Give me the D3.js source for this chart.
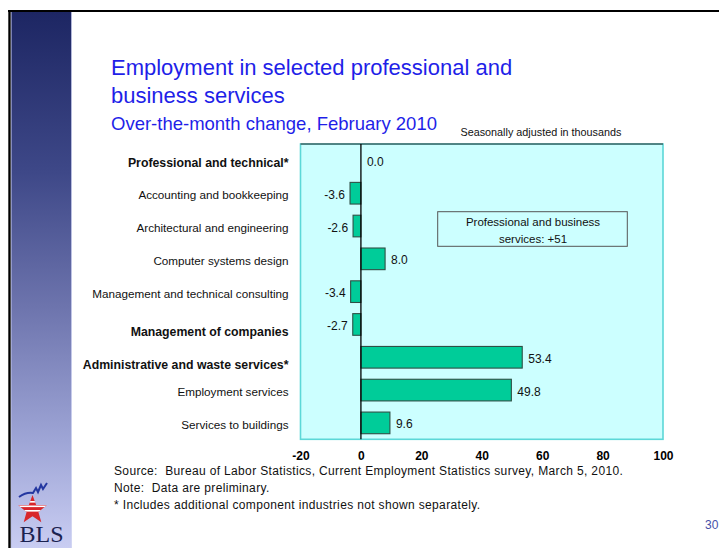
<!DOCTYPE html>
<html>
<head>
<meta charset="utf-8">
<script src="https://cdn.jsdelivr.net/npm/d3@7"></script>
<style>
  html, body { margin: 0; padding: 0; background: #fff; }
  svg { display: block; font-family: "Liberation Sans", Arial, sans-serif; }
</style>
</head>
<body>
<svg id="chart" width="719" height="548"></svg>
<script>
// ---- data ----
const categories = [
  "Professional and technical*",
  "Accounting and bookkeeping",
  "Architectural and engineering",
  "Computer systems design",
  "Management and technical consulting",
  "Management of companies",
  "Administrative and waste services*",
  "Employment services",
  "Services to buildings"
];
const values = [0.0, -3.6, -2.6, 8.0, -3.4, -2.7, 53.4, 49.8, 9.6];
const boldCategories = ["Professional and technical*", "Management of companies", "Administrative and waste services*"];
const xTicks = [-20, 0, 20, 40, 60, 80, 100];
const titleLines = ["Employment in selected professional and", "business services"];
const subtitle = "Over-the-month change, February 2010";
const unitNote = "Seasonally adjusted in thousands";
const boxNote = ["Professional and business", "services: +51"];
const footer = [
  "Source:  Bureau of Labor Statistics, Current Employment Statistics survey, March 5, 2010.",
  "Note:  Data are preliminary.",
  "* Includes additional component industries not shown separately."
];
const pageNumber = "30";

// ---- layout ----
const svg = d3.select("#chart");
const W = 719, H = 548;
const plot = { left: 300.5, right: 663, top: 144, bottom: 439.3 };

// gradient sidebar
const defs = svg.append("defs");
const grad = defs.append("linearGradient").attr("id", "side").attr("x1", 0).attr("y1", 0).attr("x2", 0).attr("y2", 1);
grad.append("stop").attr("offset", "0%").attr("stop-color", "#1d2663");
grad.append("stop").attr("offset", "30%").attr("stop-color", "#3e4888");
grad.append("stop").attr("offset", "55%").attr("stop-color", "#6d74ad");
grad.append("stop").attr("offset", "80%").attr("stop-color", "#9ea5d6");
grad.append("stop").attr("offset", "100%").attr("stop-color", "#c9cdf2");

svg.append("rect").attr("x", 11).attr("y", 12).attr("width", 60.5).attr("height", H - 12).attr("fill", "url(#side)");
svg.append("line").attr("x1", 11.5).attr("x2", 11.5).attr("y1", 12).attr("y2", H).attr("stroke", "#b8bde6").attr("stroke-width", 1).attr("opacity", 0.6);
svg.append("line").attr("x1", 71.5).attr("x2", 71.5).attr("y1", 12).attr("y2", H).attr("stroke", "#c8cdf0").attr("stroke-width", 1).attr("opacity", 0.6);

// page frame
svg.append("line").attr("x1", 8).attr("x2", W).attr("y1", 11).attr("y2", 11).attr("stroke", "#000").attr("stroke-width", 2.2);
svg.append("line").attr("x1", 9.5).attr("x2", 9.5).attr("y1", 10).attr("y2", H).attr("stroke", "#000").attr("stroke-width", 2.4);

// BLS logo
const logo = svg.append("g");
const starCx = 32.5, starCy = 510, R = 15, r = 6.2;
const starPts = d3.range(10).map(i => {
  const a = -Math.PI / 2 + i * Math.PI / 5;
  const rr = i % 2 === 0 ? R : r;
  return [starCx + rr * Math.cos(a), starCy + rr * Math.sin(a)];
});
defs.append("clipPath").attr("id", "starClip").append("polygon").attr("points", starPts.map(p => p.join(",")).join(" "));
logo.append("polygon").attr("points", starPts.map(p => p.join(",")).join(" ")).attr("fill", "#d8262b");
[501, 505.5, 510].forEach(yy => {
  logo.append("rect").attr("x", 14).attr("y", yy).attr("width", 40).attr("height", 1.6).attr("fill", "#fff").attr("clip-path", "url(#starClip)");
});
logo.append("path")
  .attr("d", "M19,497 Q26,492 33,493 L36,488 L38,492 L41,485 L43,489 L47,483")
  .attr("fill", "none").attr("stroke", "#2437a0").attr("stroke-width", 2);
logo.append("text").attr("x", 41.5).attr("y", 542).attr("text-anchor", "middle")
  .attr("font-family", "'Liberation Serif', 'Times New Roman', serif").attr("font-size", 24)
  .attr("fill", "#1b2250").text("BLS");

// titles
const titleColor = "#1f1fe8";
svg.selectAll("text.title").data(titleLines).join("text")
  .attr("class", "title").attr("x", 111).attr("y", (d, i) => 75 + i * 27.7)
  .attr("font-size", 22).attr("fill", titleColor).text(d => d);
svg.append("text").attr("x", 111).attr("y", 130).attr("font-size", 18.5).attr("fill", titleColor).text(subtitle);
svg.append("text").attr("x", 460.5).attr("y", 136).attr("font-size", 10.8).attr("fill", "#111").text(unitNote);

// scales
const x = d3.scaleLinear().domain([xTicks[0], xTicks[xTicks.length - 1]]).range([plot.left, plot.right]);
const y = d3.scaleBand().domain(categories).range([plot.top, plot.bottom]).paddingInner(0.34).paddingOuter(0.17);

// plot background
svg.append("rect").attr("x", x(xTicks[0])).attr("y", plot.top)
  .attr("width", x(xTicks[xTicks.length - 1]) - x(xTicks[0])).attr("height", plot.bottom - plot.top)
  .attr("fill", "#ccffff").attr("stroke", "#5cd8d8").attr("stroke-width", 1.6);
svg.append("line").attr("x1", x(xTicks[0])).attr("x2", x(xTicks[xTicks.length - 1]))
  .attr("y1", plot.top).attr("y2", plot.top).attr("stroke", "#2a2a2a").attr("stroke-width", 1);

// bars
svg.selectAll("rect.bar").data(categories).join("rect")
  .attr("class", "bar")
  .attr("x", (d, i) => x(Math.min(0, values[i])))
  .attr("y", d => y(d))
  .attr("width", (d, i) => Math.abs(x(values[i]) - x(0)))
  .attr("height", y.bandwidth())
  .attr("fill", "#00cc99").attr("stroke", "#2f4f45").attr("stroke-width", 1.1);

// zero line
svg.append("line").attr("x1", x(0)).attr("x2", x(0)).attr("y1", plot.top).attr("y2", plot.bottom)
  .attr("stroke", "#000").attr("stroke-width", 1.3);

// value labels
svg.selectAll("text.val").data(categories).join("text")
  .attr("class", "val")
  .attr("x", (d, i) => values[i] < 0 ? x(values[i]) - 5 : x(values[i]) + 6)
  .attr("y", d => y(d) + y.bandwidth() / 2 + 1.5)
  .attr("dominant-baseline", "central")
  .attr("text-anchor", (d, i) => values[i] < 0 ? "end" : "start")
  .attr("font-size", 12).attr("fill", "#111")
  .text((d, i) => values[i].toFixed(1));

// category labels
const labelShift = { "Professional and technical*": 3, "Management of companies": 8, "Administrative and waste services*": 8 };
svg.selectAll("text.cat").data(categories).join("text")
  .attr("class", "cat")
  .attr("x", 288.5)
  .attr("y", d => y(d) + y.bandwidth() / 2 + (labelShift[d] !== undefined ? labelShift[d] : 1.5))
  .attr("dominant-baseline", "central")
  .attr("text-anchor", "end")
  .attr("font-size", d => boldCategories.includes(d) ? 12.3 : 11.7)
  .attr("font-weight", d => boldCategories.includes(d) ? "bold" : "normal")
  .attr("fill", "#111")
  .text(d => d);

// annotation box
const ann = svg.append("g");
ann.append("rect").attr("x", 437.7).attr("y", 211.7).attr("width", 189.6).attr("height", 34.6)
  .attr("fill", "#ccffff").attr("stroke", "#555").attr("stroke-width", 1);
ann.selectAll("text").data(boxNote).join("text")
  .attr("x", 533).attr("y", (d, i) => 222 + i * 17.3)
  .attr("dominant-baseline", "central").attr("text-anchor", "middle")
  .attr("font-size", 11.5).attr("fill", "#111").text(d => d);

// x axis
const axis = svg.append("g").attr("transform", `translate(0,${plot.bottom})`)
  .call(d3.axisBottom(x).tickValues(xTicks).tickSize(0).tickPadding(12.5).tickFormat(d => String(d)));
axis.select(".domain").remove();
axis.selectAll("text").attr("font-size", 12).attr("font-weight", "bold").attr("fill", "#000")
  .attr("font-family", "'Liberation Sans', Arial, sans-serif");

// footer
svg.selectAll("text.foot").data(footer).join("text")
  .attr("class", "foot").attr("x", 114).attr("y", (d, i) => 475 + i * 16.8)
  .attr("font-size", 12).attr("letter-spacing", 0.35).attr("fill", "#111").style("white-space", "pre").text(d => d);

// page number
svg.append("text").attr("x", 705).attr("y", 529).attr("font-size", 12).attr("fill", "#4650a8").text(pageNumber);
</script>
</body>
</html>
